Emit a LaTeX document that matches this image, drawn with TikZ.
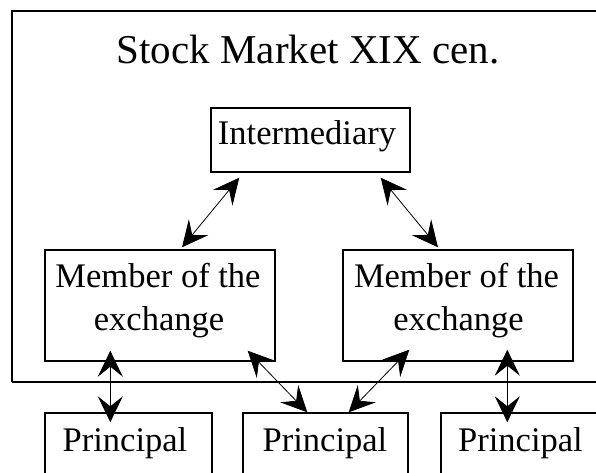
\documentclass[tikz,border=0pt]{standalone}
\usepackage{fontspec}
\setmainfont{Liberation Serif}
\newfontfamily\boxserif{Liberation Serif}
\usetikzlibrary{arrows.meta,calc}
\begin{document}
\begin{tikzpicture}[x=1pt,y=-1pt,
  box/.style={draw=black,line width=1.4pt,inner sep=0pt,fill=white},
  frame/.style={draw=black,line width=2pt},
  txt/.style={inner sep=0pt,anchor=base,font=\boxserif\fontsize{34.5}{43}\selectfont},
  ttl/.style={inner sep=0pt,anchor=base,font=\boxserif\fontsize{41}{48}\selectfont},
  >={Stealth[length=26pt,width=25pt,inset=10pt]},
  diag/.style={line width=0.8pt,<->},
  vert/.style={line width=1.3pt,<->}]
  \useasboundingbox[fill=white] (0,0) rectangle (596,473);
  \clip (0,0) rectangle (596,473);

  % outer frame of the exchange (runs off the right edge)
  \draw[frame] (12,382) -- (12,11) -- (620,11);
  \draw[frame] (12,382) -- (620,382);

  \node[ttl] (title) at (308,64) {Stock Market XIX cen.};

  % boxes
  \node[box,minimum width=199,minimum height=64] (inter) at (310.5,140) {};
  \node[box,minimum width=230,minimum height=111] (ml) at (160,305.5) {};
  \node[box,minimum width=230,minimum height=111] (mr) at (458,305.5) {};
  \node[box,minimum width=167,minimum height=77] (pl) at (128.5,451.5) {};
  \node[box,minimum width=165,minimum height=77] (pm) at (325.5,451.5) {};
  \node[box,minimum width=169,minimum height=77] (pr) at (525.5,451.5) {};

  % box texts
  \node[txt] (intert) at (307,145) {Intermediary};
  \node[txt] (mlt1) at (158,287) {Member of the};
  \node[txt] (mlt2) at (159,330) {exchange};
  \node[txt] (mrt1) at (456.5,287) {Member of the};
  \node[txt] (mrt2) at (458.5,330) {exchange};
  \node[txt] (plt) at (125,451) {Principal};
  \node[txt] (pmt) at (325,451) {Principal};
  \node[txt] (prt) at (520.5,451) {Principal};

  % two-way connectors
  \draw[diag] ($(inter.south west)+(29,5)$) -- ($(ml.north)+(22,-2)$);
  \draw[diag] ($(inter.south east)+(-30,5)$) -- ($(mr.north)+(-20,-2)$);
  \draw[vert] ($(ml.south west)+(66,-11)$) -- ($(pl.north west)+(66,10)$);
  \draw[diag] ($(ml.south east)+(-28,-11)$) -- ($(pm.north west)+(65,0)$);
  \draw[diag] ($(mr.south west)+(67,-12)$) -- ($(pm.north east)+(-60,0)$);
  \draw[vert] ($(mr.south west)+(165,-12)$) -- ($(pr.north west)+(67,10)$);
\end{tikzpicture}
\end{document}
